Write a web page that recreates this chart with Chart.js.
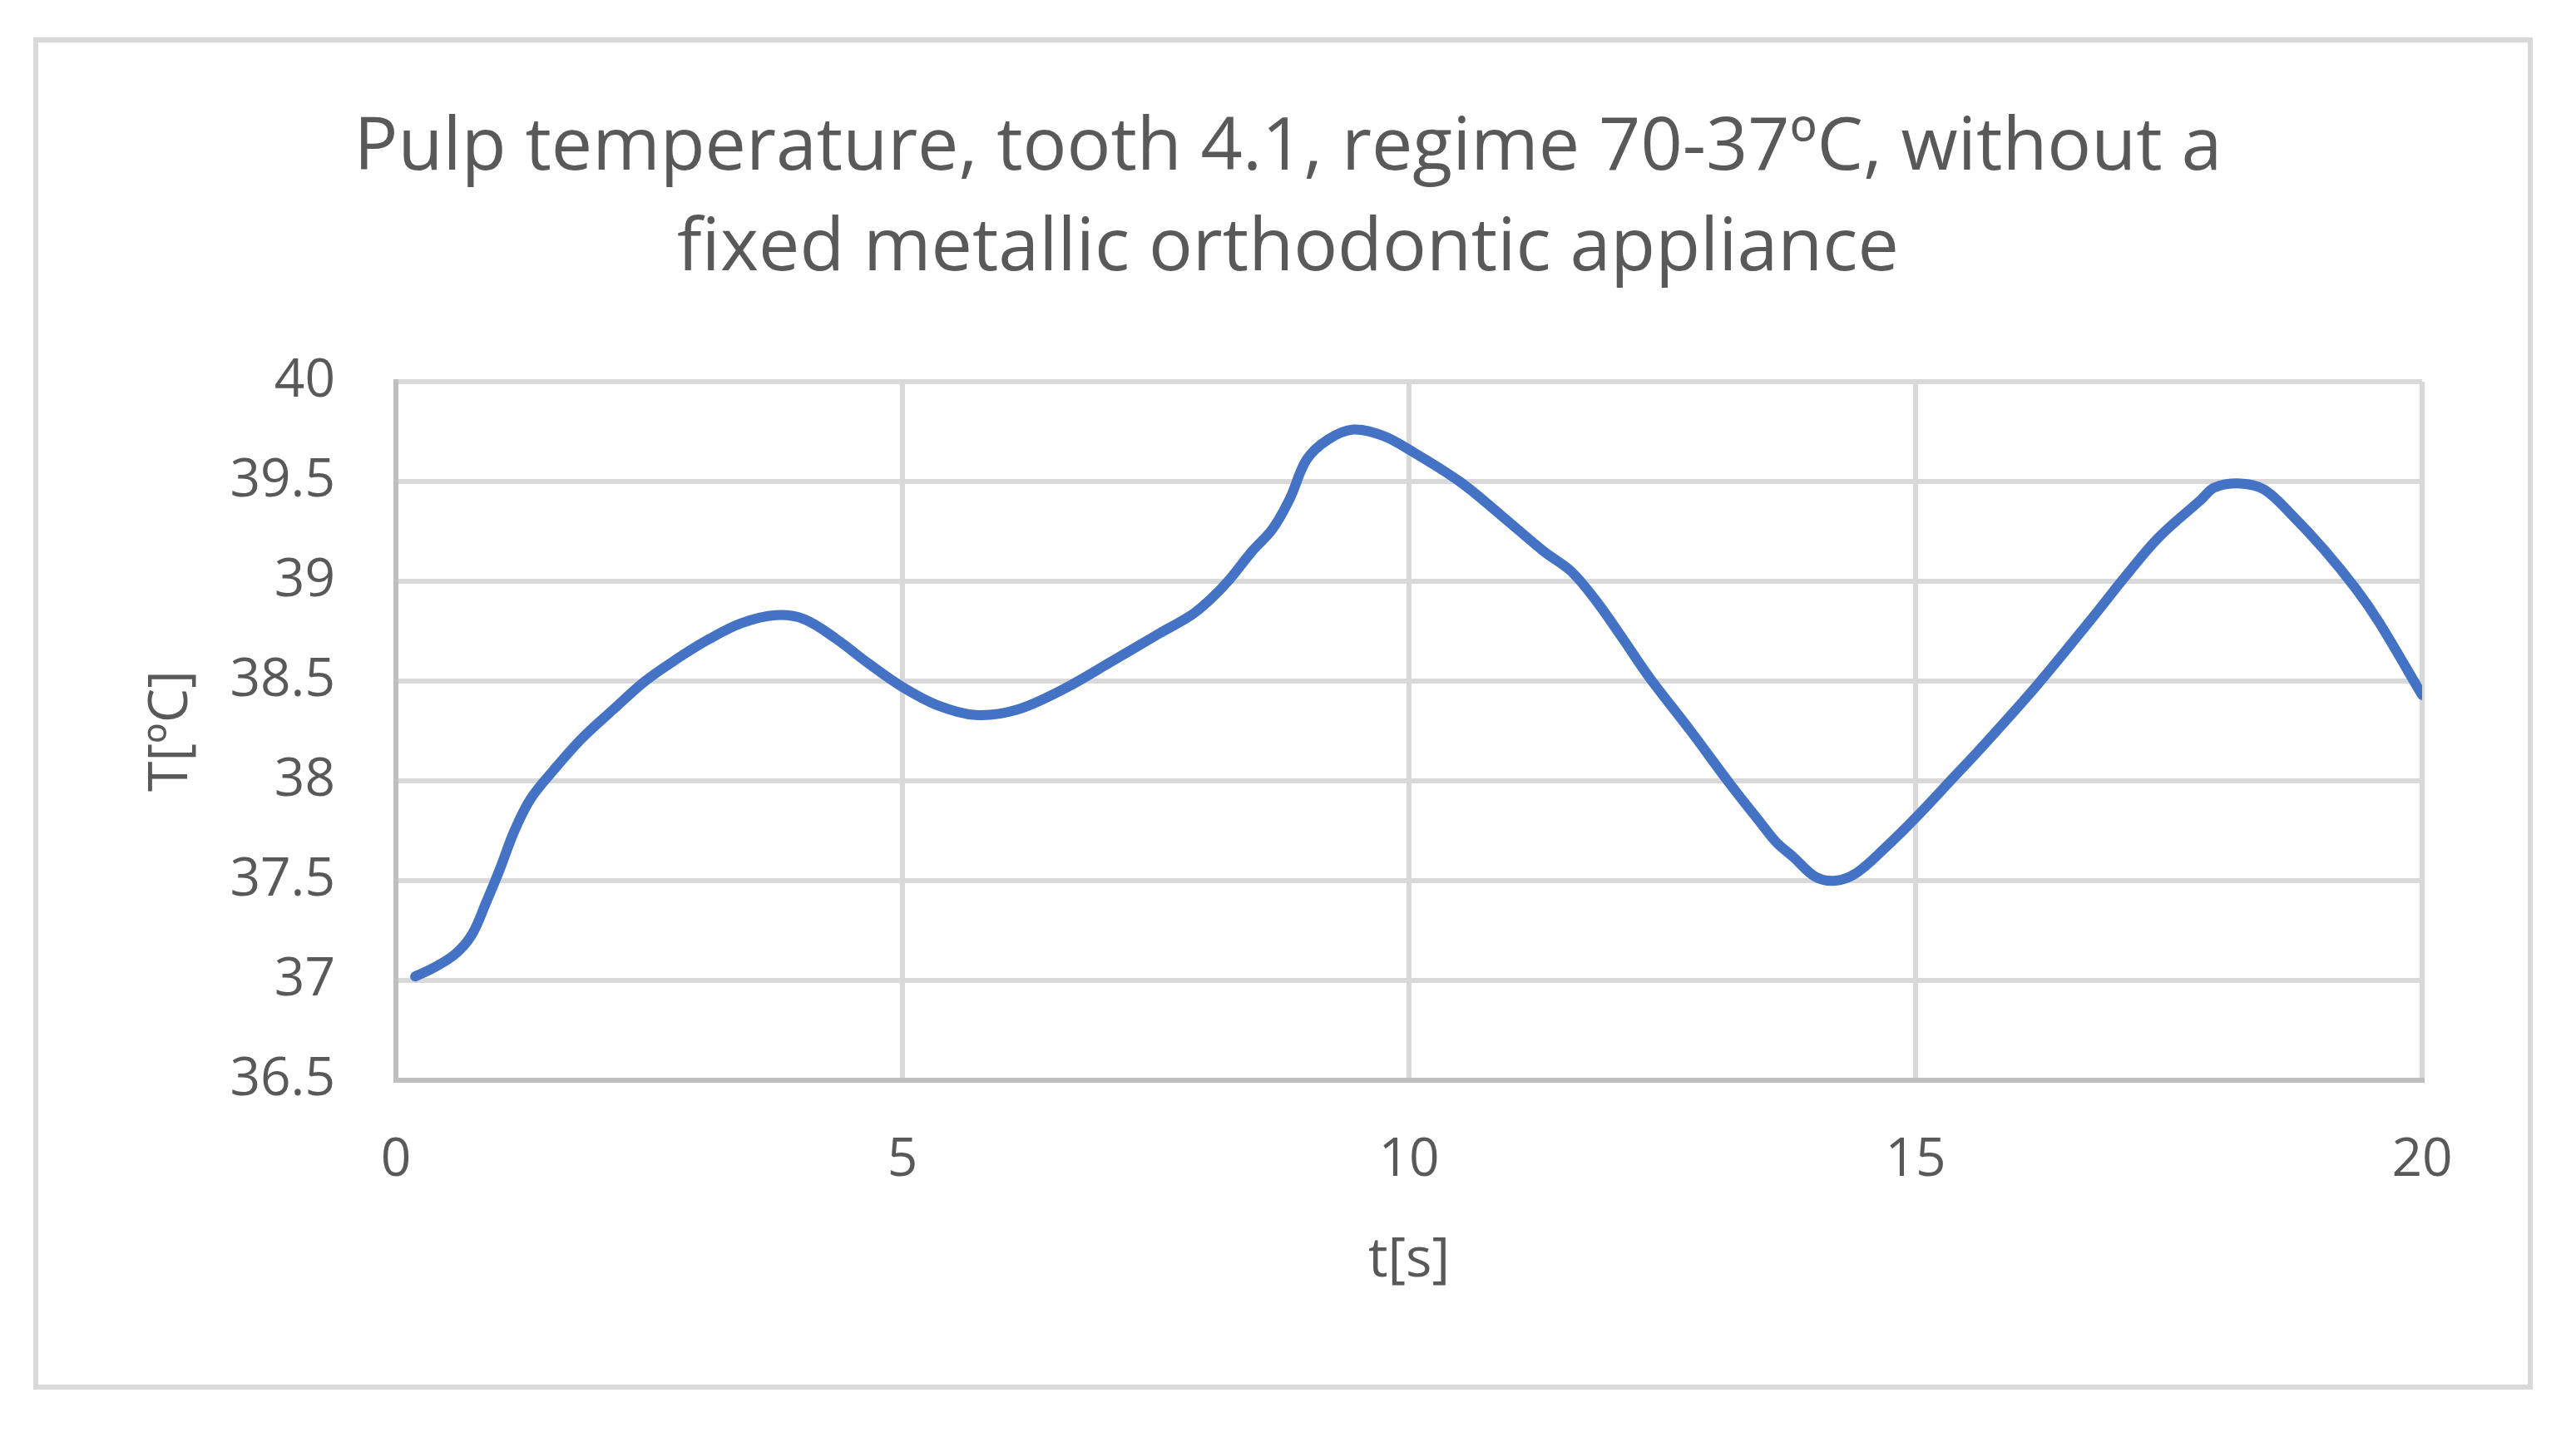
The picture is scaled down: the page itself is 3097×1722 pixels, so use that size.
<!DOCTYPE html>
<html>
<head>
<meta charset="utf-8">
<style>
  html, body { margin: 0; padding: 0; background: #ffffff; }
  #wrap { width: 3097px; height: 1722px; position: relative; }
  canvas { display: block; }
</style>
<script src="https://cdn.jsdelivr.net/npm/chart.js@4/dist/chart.umd.min.js"></script>
</head>
<body>
<div id="wrap"><canvas id="c" width="3097" height="1722"></canvas></div>
<script>
// ---- Data ----
const titleLines = ["Pulp temperature, tooth 4.1, regime 70-37ºC, without a", "fixed metallic orthodontic appliance"];
const xAxisTitle = "t[s]";
const yAxisTitle = "T[ºC]";

const timeS = [0.19, 0.36, 0.58, 0.75, 0.89, 1.02, 1.17, 1.33, 1.55, 1.83, 2.15, 2.46, 2.77, 3.09, 3.41, 3.75, 4.03, 4.35, 4.66, 5.0,
  5.34, 5.72, 6.12, 6.59, 7.07, 7.54, 7.85, 8.04, 8.23, 8.45, 8.65, 8.82, 8.99, 9.2, 9.45, 9.74, 10.0, 10.5, 10.91, 11.33,
  11.6, 11.85, 12.1, 12.37, 12.78, 13.19, 13.47, 13.63, 13.79, 14.01, 14.21, 14.42, 14.69, 15.01, 15.38, 15.62, 16.2, 16.75, 17.08, 17.4,
  17.82, 17.95, 18.21, 18.44, 18.7, 19.03, 19.35, 19.58, 20.0];
const tempC = [37.02, 37.06, 37.13, 37.23, 37.39, 37.55, 37.75, 37.91, 38.05, 38.21, 38.36, 38.50, 38.61, 38.71, 38.79, 38.83, 38.81, 38.71, 38.59, 38.47,
  38.38, 38.33, 38.355, 38.46, 38.60, 38.74, 38.83, 38.91, 39.01, 39.15, 39.26, 39.41, 39.61, 39.71, 39.76, 39.73, 39.66, 39.50, 39.33, 39.15,
  39.05, 38.90, 38.72, 38.52, 38.25, 37.97, 37.79, 37.69, 37.62, 37.52, 37.50, 37.54, 37.66, 37.82, 38.02, 38.15, 38.48, 38.82, 39.03, 39.22,
  39.41, 39.47, 39.49, 39.46, 39.34, 39.16, 38.96, 38.79, 38.43];

const xMin = 0, xMax = 20, xStep = 5;
const yMin = 36.5, yMax = 40, yStep = 0.5;

// ---- Chart ----
const points = timeS.map((t, i) => ({ x: t, y: tempC[i] }));
const FONT = "'Open Sans', 'Noto Sans', sans-serif";
const TEXT = '#595959';

const outerBorder = {
  id: 'outerBorder',
  beforeDraw(chart) {
    const ctx = chart.ctx;
    ctx.save();
    ctx.fillStyle = '#ffffff';
    ctx.fillRect(0, 0, chart.width, chart.height);
    ctx.strokeStyle = '#d9d9d9';
    ctx.lineWidth = 6;
    ctx.strokeRect(43, 48, 2999, 1620);
    ctx.restore();
  }
};

new Chart(document.getElementById('c'), {
  type: 'line',
  data: {
    datasets: [{
      data: points,
      xAxisID: 'x',
      yAxisID: 'y',
      borderColor: '#4472C4',
      borderWidth: 12,
      borderCapStyle: 'round',
      borderJoinStyle: 'round',
      pointRadius: 0,
      tension: 0.35,
      fill: false
    }]
  },
  plugins: [outerBorder],
  options: {
    responsive: false,
    animation: false,
    devicePixelRatio: 1,
    layout: { padding: { left: 0, right: 0, top: 0, bottom: 0 } },
    plugins: {
      legend: { display: false },
      tooltip: { enabled: false },
      title: {
        display: true,
        text: titleLines,
        color: TEXT,
        font: { family: FONT, size: 88, weight: 'normal', lineHeight: 1.375 },
        padding: { top: 118, bottom: 99 }
      }
    },
    scales: {
      x: {
        type: 'linear',
        min: xMin, max: xMax,
        afterFit(s) { s.height = 423; },
        ticks: {
          stepSize: xStep,
          color: TEXT,
          padding: 58,
          font: { family: FONT, size: 64 },
          callback: v => String(v)
        },
        grid: { color: '#d9d9d9', lineWidth: 6, drawTicks: false },
        border: { color: '#bfbfbf', width: 6 },
        title: {
          display: true,
          text: xAxisTitle,
          color: TEXT,
          font: { family: FONT, size: 66 },
          padding: { top: 0, bottom: 166 }
        }
      },
      y: {
        type: 'linear',
        position: 'left',
        min: yMin, max: yMax,
        afterFit(s) { s.width = 476; },
        ticks: {
          stepSize: yStep,
          color: TEXT,
          padding: 73,
          font: { family: FONT, size: 64 },
          callback: v => String(v)
        },
        grid: { color: '#d9d9d9', lineWidth: 6, drawTicks: false },
        border: { color: '#bfbfbf', width: 6 },
        title: {
          display: true,
          text: yAxisTitle,
          color: TEXT,
          font: { family: FONT, size: 66 },
          padding: { top: 167, bottom: 0 }
        }
      },
      yRightSpace: {
        type: 'linear',
        position: 'right',
        min: yMin, max: yMax,
        afterFit(s) { s.width = 185; },
        ticks: { display: false },
        grid: { display: false, drawTicks: false },
        border: { display: false },
        title: { display: false }
      }
    }
  }
});
</script>
</body>
</html>
